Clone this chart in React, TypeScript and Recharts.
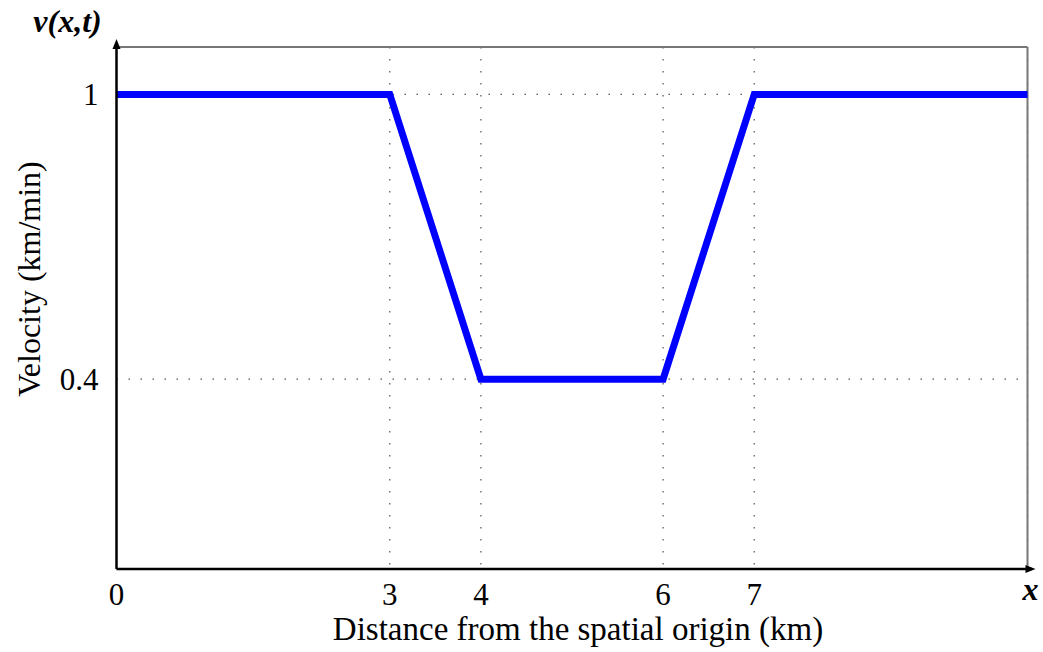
import { LineChart, Line, XAxis, YAxis, CartesianGrid, ReferenceLine, ReferenceDot, Label } from "recharts";

const distance = [0, 3, 4, 6, 7, 10];
const velocity = [1, 1, 0.4, 0.4, 1, 1];
const xTicks = [0, 3, 4, 6, 7];
const yTicks = [0.4, 1];

const SERIF = '"Liberation Serif", "Times New Roman", serif';

const data = distance.map((x, i) => ({ x, v: velocity[i] }));

function YArrow({ cx, cy }: any) {
  return (
    <g>
      <line x1={cx} y1={cy} x2={cx} y2={cy - 4} stroke="#000" strokeWidth={2.5} />
      <path d={`M${cx},${cy - 8} L${cx - 4},${cy + 2} L${cx + 4},${cy + 2} Z`} fill="#000" />
      <text x={cx - 49} y={cy - 15} textAnchor="middle" fontFamily={SERIF} fontSize={32} fontWeight="bold" fontStyle="italic" fill="#000">
        v(x,t)
      </text>
    </g>
  );
}

function XArrow({ cx, cy }: any) {
  return (
    <g>
      <line x1={cx} y1={cy} x2={cx + 4} y2={cy} stroke="#000" strokeWidth={2.5} />
      <path d={`M${cx + 8},${cy} L${cx - 2},${cy - 4} L${cx - 2},${cy + 4} Z`} fill="#000" />
      <text x={cx + 3} y={cy + 31} textAnchor="middle" fontFamily={SERIF} fontSize={32} fontWeight="bold" fontStyle="italic" fill="#000">
        x
      </text>
    </g>
  );
}

export default function App() {
  return (
    <div style={{ position: "absolute", left: 0, top: 0, width: 1043, height: 652, background: "#fff" }}>
      <LineChart width={1043} height={652} data={data} margin={{ top: 47, right: 15.5, left: 115.5, bottom: 82 }}>
        <CartesianGrid stroke="#555" strokeWidth={1.2} strokeDasharray="1.5 10.5" />
        <XAxis
          dataKey="x"
          type="number"
          domain={[0, 10]}
          ticks={xTicks}
          height={1}
          tickSize={0}
          tickMargin={14}
          tickLine={false}
          axisLine={{ stroke: "#000", strokeWidth: 2.5 }}
          tick={{ fontFamily: SERIF, fontSize: 31, fill: "#000" }}
        >
          <Label
            content={({ viewBox }: any) => (
              <text x={viewBox.x + viewBox.width / 2 + 6} y={viewBox.y + 71} textAnchor="middle" fontFamily={SERIF} fontSize={33} fill="#000">
                Distance from the spatial origin (km)
              </text>
            )}
          />
        </XAxis>
        <YAxis
          type="number"
          domain={[0, 1.1]}
          ticks={yTicks}
          width={1}
          tickSize={0}
          tickMargin={18}
          tickLine={false}
          axisLine={{ stroke: "#000", strokeWidth: 2.5 }}
          tick={{ fontFamily: SERIF, fontSize: 31, fill: "#000" }}
        >
          <Label
            content={({ viewBox }: any) => {
              const cx = viewBox.x + viewBox.width - 88;
              const cy = viewBox.y + viewBox.height / 2 - 29;
              return (
                <text x={cx} y={cy} textAnchor="middle" dominantBaseline="central" transform={`rotate(-90, ${cx}, ${cy})`} fontFamily={SERIF} fontSize={32} fill="#000">
                  Velocity (km/min)
                </text>
              );
            }}
          />
        </YAxis>
        <ReferenceLine y={1.1} stroke="#777" strokeWidth={2} />
        <ReferenceLine x={10} stroke="#777" strokeWidth={2} />
        <Line
          type="linear"
          dataKey="v"
          stroke="#0000FF"
          strokeWidth={7}
          strokeLinejoin="miter"
          dot={false}
          activeDot={false}
          isAnimationActive={false}
        />
        <ReferenceDot x={0} y={1.1} r={0} shape={YArrow} ifOverflow="visible" />
        <ReferenceDot x={10} y={0} r={0} shape={XArrow} ifOverflow="visible" />
      </LineChart>
    </div>
  );
}
